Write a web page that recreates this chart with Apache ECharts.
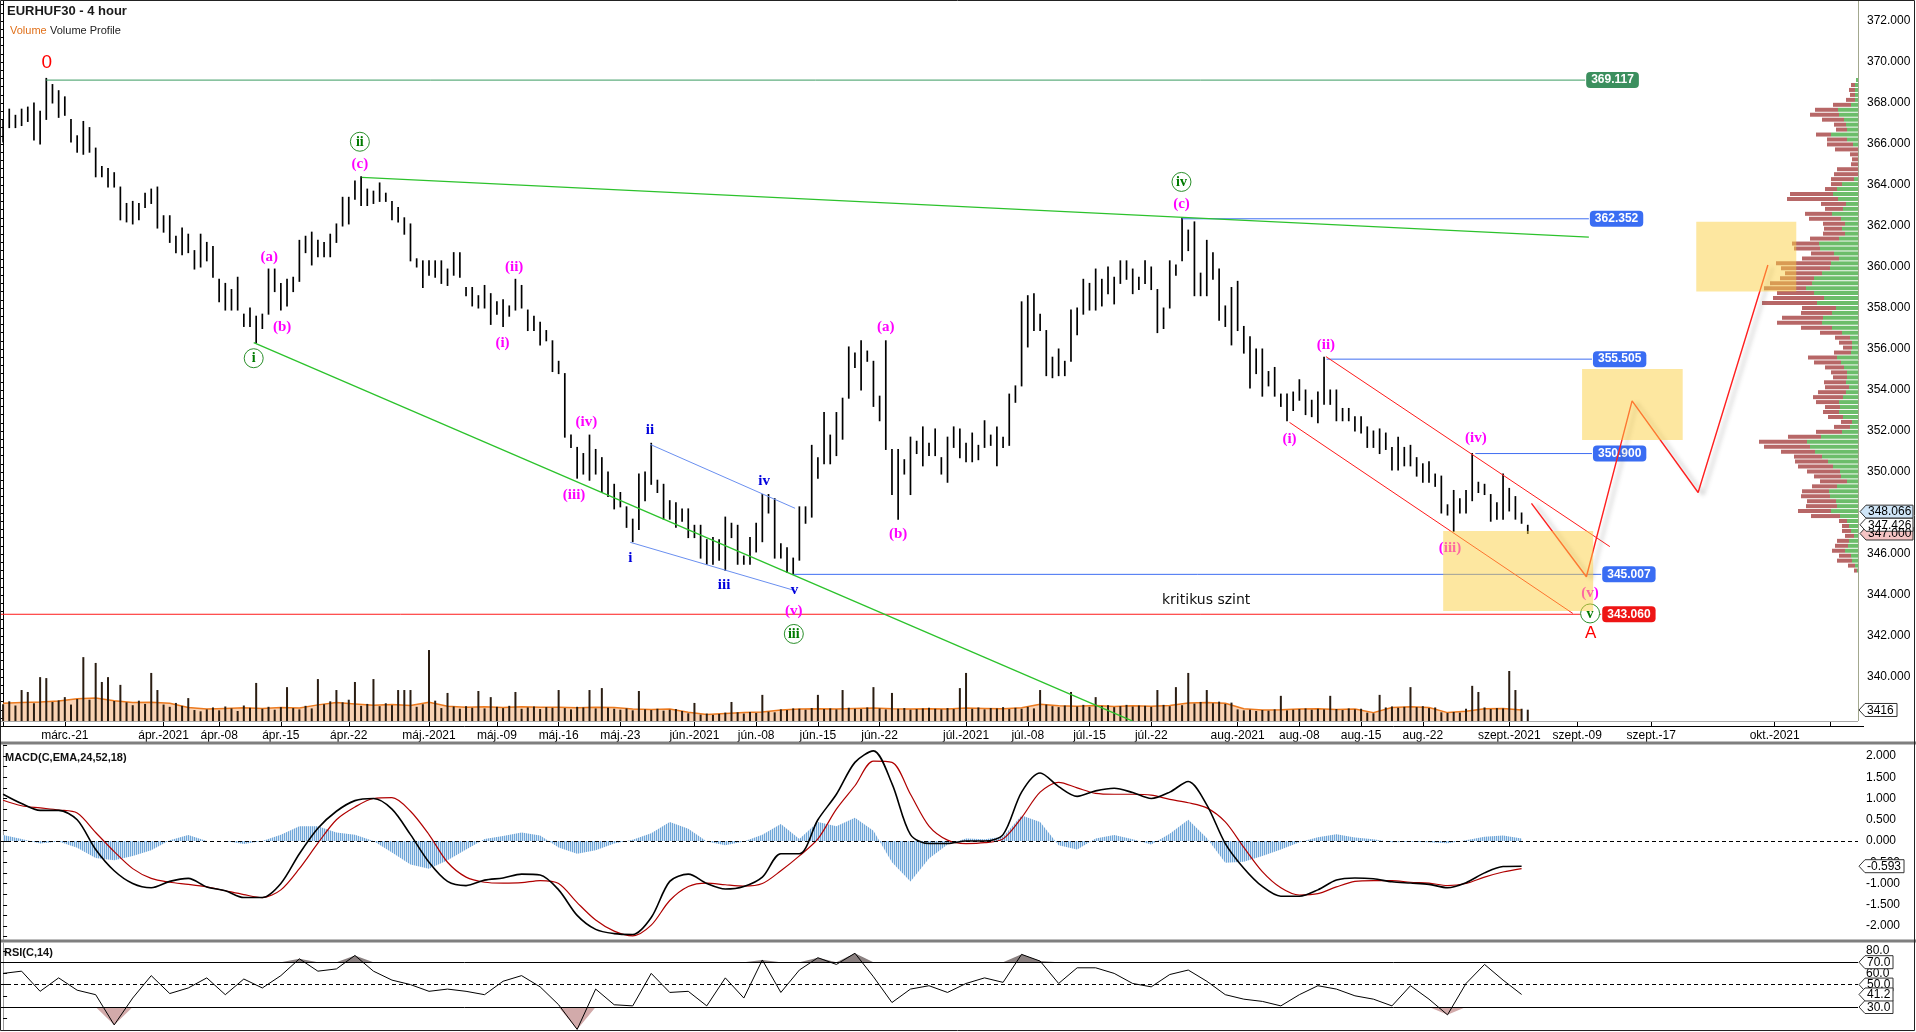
<!DOCTYPE html>
<html><head><meta charset="utf-8">
<script src="https://cdn.jsdelivr.net/npm/echarts@6/dist/echarts.min.js"></script>
<style>html,body{margin:0;padding:0;background:#fff;overflow:hidden}#c{width:1916px;height:1032px}</style>
</head><body><div id="c"></div>
<script>
// ---------------- DATA ----------------
const NSLOT = 301;           // time slots on the x axis (incl. future)
const IND_STEP = 3;          // indicator sample spacing in slots
const highs = [367.2,367.7,367.4,367.7,367.8,368.0,367.6,369.2,368.9,368.6,
368.3,367.2,366.4,367.1,366.8,365.8,364.9,364.8,364.6,363.9,
363.1,363.2,363.1,363.6,363.8,363.9,362.5,362.5,361.5,361.9,
361.6,360.8,361.6,361.2,361.0,359.4,359.2,358.9,359.5,357.7,
358.0,357.6,357.7,359.9,359.9,359.2,359.4,359.5,361.3,361.5,
361.7,361.3,361.2,361.6,362.1,363.4,363.4,364.2,364.4,363.8,
363.7,364.1,363.6,363.2,362.9,362.4,362.1,360.4,360.3,360.3,
360.3,360.3,359.9,360.7,360.7,359.0,359.0,358.6,359.1,358.7,
358.3,358.4,358.1,359.4,359.1,357.9,357.6,357.3,356.9,356.4,
355.4,354.8,351.8,351.2,350.9,351.8,351.1,350.7,350.0,349.4,
349.0,348.3,347.7,349.9,350.0,351.4,349.6,349.4,348.6,348.5,
348.2,348.2,347.4,347.4,346.7,346.8,346.7,347.8,347.5,347.4,
345.9,346.8,347.5,348.9,348.9,348.7,346.5,346.3,345.8,348.3,
348.3,351.3,350.7,352.9,351.8,352.9,353.6,356.1,355.8,356.4,
355.9,355.4,353.7,356.4,351.1,351.1,350.6,351.7,351.5,352.2,
351.4,352.1,350.7,351.7,352.2,352.1,351.4,351.9,351.3,352.5,
351.8,352.2,351.7,353.8,354.2,358.3,358.6,358.7,357.7,356.9,
355.6,356.0,355.4,357.9,358.0,359.4,359.2,359.9,359.4,360.0,
359.5,360.3,360.3,359.9,359.5,360.3,360.0,358.9,358.0,360.3,
360.1,362.4,361.8,362.2,359.7,361.3,360.7,359.9,358.1,359.0,
359.3,357.1,356.6,356.0,356.0,354.9,355.1,353.8,353.8,353.9,
354.5,354.0,353.5,353.9,355.6,354.0,354.0,353.1,353.1,352.7,
352.7,352.2,352.0,352.1,351.9,351.2,351.7,351.2,351.3,350.7,
350.4,350.5,349.9,349.8,348.4,349.1,348.7,349.1,350.9,349.5,
349.4,348.9,348.5,349.9,349.2,348.8,348.0,347.4];
const lows = [366.1,366.8,366.8,366.9,367.1,366.2,366.0,367.2,368.0,367.3,
367.4,366.1,365.6,365.5,365.6,364.4,364.4,363.9,363.9,362.3,
362.2,362.1,362.3,362.9,363.1,361.9,361.7,361.2,360.7,360.6,
360.7,359.9,360.0,360.3,359.5,358.3,357.9,357.9,357.9,357.1,
357.1,356.3,357.0,357.7,358.8,357.9,358.1,358.8,359.3,360.7,
360.1,360.5,360.5,360.5,361.2,362.0,362.1,363.3,363.0,363.0,
363.1,363.2,363.2,362.3,362.2,361.6,360.3,360.0,359.0,359.6,
359.5,359.2,359.1,359.6,359.5,358.6,358.1,358.0,358.0,357.2,
357.7,357.1,357.6,357.9,358.0,356.9,356.9,356.2,356.4,354.9,
354.8,351.7,351.2,349.7,349.9,349.6,349.9,349.0,348.8,348.2,
348.3,347.3,346.6,347.2,348.6,349.4,349.0,347.7,347.7,347.3,
347.6,346.8,346.8,345.8,345.5,345.5,345.7,345.2,346.8,345.5,
345.5,345.5,346.1,346.6,348.0,345.8,345.8,345.1,345.0,345.7,
347.5,347.8,349.7,350.4,350.4,350.8,351.6,353.6,355.1,354.0,
355.4,353.2,352.5,351.1,348.9,347.7,349.9,348.9,350.9,350.3,
350.8,350.8,349.9,349.5,351.2,350.7,350.5,350.5,350.6,351.2,
351.3,350.3,351.2,351.3,353.4,354.2,356.1,356.9,356.9,354.7,
354.6,354.7,354.7,355.4,356.7,357.7,357.9,357.9,358.1,358.7,
358.2,359.2,359.4,358.7,358.9,359.2,358.9,356.8,357.0,358.0,
359.6,360.3,360.8,358.6,358.6,358.6,359.4,357.4,357.1,356.2,
356.9,355.8,354.1,354.8,353.7,354.2,353.7,353.2,352.5,353.0,
353.5,352.8,352.7,352.4,353.3,353.3,352.5,352.5,352.5,352.0,
351.9,351.2,351.2,350.9,351.1,350.1,350.1,350.3,350.3,349.8,
349.5,349.5,349.3,348.0,347.9,347.1,348.0,348.0,348.6,349.0,
348.9,347.6,347.7,347.7,348.1,347.7,347.5,347.0];
const volume = [5200,6100,4800,9600,9000,5500,13600,13300,5900,6400,
7400,5100,6800,19800,6600,18000,12100,13600,
6200,11200,5800,4900,6300,5300,14900,9600,5100,4400,5600,4700,
7100,3400,3000,
3600,4200,3300,4500,3900,3100,4800,4100,11800,3800,4400,3500,4300,10500,4000,3600,4700,3900,
13000,5200,6100,9600,5800,6600,
12100,4700,5300,13000,4600,5500,4900,9600,9600,9600,4400,5200,
22000,6300,
4000,8700,4500,3800,4600,4100,9300,3900,7400,4400,4000,4700,9000,3800,4200,4500,3700,4300,4100,9600,4000,3600,4400,4200,9600,3900,10200,4100,3800,
3500,3900,3300,9300,3600,3400,3800,3200,3500,3700,3100,
2400,5600,2000,2300,1900,2200,
2600,5900,2700,2300,2800,2500,8100,2900,2700,
3600,3400,3900,3800,3500,4000,8100,3700,3900,3600,9600,4100,3800,3700,4200,10500,3900,3600,8700,3800,4000,3500,3700,3900,4100,3800,3600,4000,3700,10200,
14900,3800,4200,3600,4000,3900,4300,3700,4100,3800,4400,3900,
9600,5100,4600,4300,4800,9000,4500,5000,4400,7400,4700,4900,4300,4600,5000,4500,4800,4700,4400,9600,5000,4600,10500,4900,
14900,5400,5900,9600,5500,6000,5300,5700,
3600,3300,3500,3100,3400,3200,3600,7800,3300,3500,
3700,3900,3500,3800,3600,7800,3700,3400,3900,3600,3800,
2600,2400,8100,
4200,4500,4100,4400,10500,4300,4600,4000,4200,
2700,2500,2800,2600,
3800,10900,9000,4200,3700,4000,3900,15500,9600,3800,3500];
const volMA = [5500,5700,5900,6200,6900,7100,6300,5700,5800,5500,
4200,3700,3900,4100,3900,4200,4000,5000,5700,5300,
4900,5100,4800,5800,4600,4300,4400,4200,4400,4300,
4300,4100,4300,4200,3700,3600,3700,2700,2000,2300,
2600,2800,3400,3700,3800,3700,3900,4000,3800,3700,
3800,3700,4000,3900,3800,4100,5200,4700,4600,4800,
4500,4700,4600,4800,5600,5700,5500,3800,3400,3500,
3700,3800,3600,3700,2600,4200,4400,4200,2600,3000,
3800,3900,3416];
const macdLine = [1.10,0.88,0.72,0.72,0.50,-0.20,-0.70,-1.00,-1.10,-0.95,
-0.88,-1.08,-1.17,-1.33,-1.33,-1.00,-0.30,0.30,0.70,0.95,
1.00,0.75,0.15,-0.50,-0.95,-1.05,-0.92,-0.87,-0.78,-0.80,
-1.15,-1.75,-2.08,-2.18,-2.20,-1.80,-0.95,-0.78,-1.00,-1.13,
-1.07,-0.85,-0.30,-0.30,0.50,1.10,1.85,2.12,1.35,0.15,
-0.06,-0.06,0.00,0.00,0.15,1.15,1.60,1.28,1.05,1.18,
1.24,1.14,1.00,1.15,1.40,0.85,-0.06,-0.64,-1.07,-1.30,
-1.30,-1.15,-0.92,-0.87,-0.89,-0.96,-0.99,-1.02,-1.10,-0.98,
-0.75,-0.60,-0.593];
const signalLine = [0.96,0.83,0.78,0.73,0.66,0.20,-0.25,-0.65,-0.88,-0.97,
-1.02,-1.08,-1.17,-1.26,-1.33,-1.15,-0.65,-0.05,0.50,0.80,
1.00,1.02,0.70,0.15,-0.50,-0.85,-0.97,-0.99,-0.98,-0.93,
-1.00,-1.45,-1.86,-2.12,-2.23,-1.98,-1.40,-1.07,-0.99,-1.03,
-1.06,-1.00,-0.70,-0.35,0.05,0.75,1.30,1.88,1.85,1.10,
0.35,0.02,-0.06,-0.04,0.05,0.55,1.15,1.38,1.25,1.12,
1.10,1.10,1.08,0.98,0.90,0.78,0.45,-0.15,-0.72,-1.10,
-1.27,-1.24,-1.08,-0.95,-0.93,-0.93,-0.97,-0.99,-1.05,-1.00,
-0.85,-0.73,-0.65];
const rsiLine = [60,62,44,56,45,41,14,38,58,42,
47,56,41,55,47,58,73,62,64,76,
62,54,50,44,46,44,41,53,58,48,
32,10,46,32,31,60,43,44,31,56,
38,72,43,63,74,68,78,57,34,46,
49,43,51,56,52,77,71,51,65,65,
60,51,48,59,63,53,41,37,35,31,
41,49,46,40,37,31,49,37,23,51,
68,54,41.2];
// volume profile (top bin 369.12, bins going down)
const vpTop = 369.12, vpStep = 0.2417;
const vpGreen = [2,3,3,3,3,7,20,19,14,12,
11,27,11,5,0,0,0,0,0,0,
4,16,21,25,20,12,15,26,17,13,
16,13,19,39,38,24,19,27,28,36,
44,46,52,44,34,41,22,26,35,36,
26,16,8,6,6,7,21,17,14,11,
11,12,9,12,15,19,18,19,15,6,
8,16,37,51,48,43,36,30,25,18,
17,11,21,29,28,22,21,27,18,11,
9,7,4,9,10,13,7,6,3,1];
const vpRed = [0,4,6,5,9,18,23,29,22,12,
11,15,20,26,23,8,6,7,21,24,
23,11,12,43,51,25,18,27,32,22,
18,22,29,27,26,23,37,55,49,37,
34,42,42,37,51,55,34,31,41,45,
31,22,15,13,9,17,29,27,19,16,
14,22,24,28,30,23,15,16,15,11,
16,26,33,48,46,34,28,33,35,33,
27,27,25,27,29,29,31,33,29,8,
7,9,9,12,13,13,12,15,7,3];
// x-axis date tick labels [slot, label]
const dateTicks = [[10,'márc.-21'],[26,'ápr.-2021'],[35,'ápr.-08'],[45,'ápr.-15'],[56,'ápr.-22'],[69,'máj.-2021'],[80,'máj.-09'],[90,'máj.-16'],[100,'máj.-23'],[112,'jún.-2021'],[122,'jún.-08'],[132,'jún.-15'],[142,'jún.-22'],[156,'júl.-2021'],[166,'júl.-08'],[176,'júl.-15'],[186,'júl.-22'],[200,'aug.-2021'],[210,'aug.-08'],[220,'aug.-15'],[230,'aug.-22'],[244,'szept.-2021'],[255,'szept.-09'],[267,'szept.-17'],[287,'okt.-2021']];
const extraTickSlots = [296];
// horizontal levels
const levels = [369.117, 362.352, 355.505, 350.900, 345.007, 343.060];
const levelStart = [6.95, 191.0, 214.4, 238.5, 128.0, -0.5];
const levelEnd = [256.3, 256.9, 257.4, 257.4, 258.9, 258.9];
const levelKind = ['green','blue','blue','blue','blue','red'];
// trend / channel lines
const trendLines = [
  [[58.1,364.37],[256.9,361.46]],
  [[40.6,356.31],[183.0,337.85]],
  [[104.8,351.35],[128.3,348.23]],
  [[101.6,346.57],[128.0,344.24]],
  [[214.3,355.63],[260.3,346.36]],
  [[208.4,352.42],[254.3,343.10]]
];
const trendKind = ['lime','lime','sky','sky','red','red'];
const projection = [[247.6,348.47],[256.5,344.89],[263.9,353.47],[274.6,349.0],[285.9,360.1]];
const zones = [[233.3,257.6,347.12,343.22],[255.8,272.1,355.02,351.56],[274.3,290.5,362.21,358.80]];
const waveLabels = [
 [7.07,369.94,'0','red0'],
 [57.8,366.11,'ii','cgreen'],[57.8,365.02,'(c)','mag'],
 [43.1,360.5,'(a)','mag'],[45.2,357.09,'(b)','mag'],[40.6,355.55,'i','cgreen'],
 [82.8,360.01,'(ii)','mag'],[80.9,356.31,'(i)','mag'],[94.5,352.45,'(iv)','mag'],[92.5,348.88,'(iii)','mag'],
 [104.8,352.05,'ii','blue'],[101.6,345.79,'i','blue'],[116.8,344.49,'iii','blue'],[123.3,349.56,'iv','blue'],[128.2,344.24,'v','blue'],
 [128.1,343.22,'(v)','mag'],[128.1,342.1,'iii','cgreen'],
 [143.0,357.09,'(a)','mag'],[145.0,346.98,'(b)','mag'],
 [190.9,364.15,'iv','cgreen'],[190.9,363.07,'(c)','mag'],
 [214.3,356.2,'(ii)','mag'],[208.4,351.6,'(i)','mag'],[238.6,351.64,'(iv)','mag'],[234.4,346.28,'(iii)','mag'],
 [257.1,344.08,'(v)','mag'],[257.1,343.1,'v','cgreen'],[257.2,342.13,'A','redA'],
 [194.9,343.76,'kritikus szint','text']
];
const priceTags = [[347.000,'#f5c4c4'],[348.066,'#cfe5f7'],[347.426,'#ffffff']];
const rsiTags = [70, 50, 30];

// ---------------- LAYOUT / SCALES ----------------
const P_MIN = 372 - (726 - 21) / 20.5, P_MAX = 372 + 21 / 20.5;
const M_MIN = -(940 - 841) / 42.5, M_MAX = (841 - 745) / 42.5;
const R_MIN = 30 - (1030 - 1007) / 1.12, R_MAX = 80 + (951 - 943) / 1.12;
const V_MAX = 81 * 310;
const SANS = '"Liberation Sans", Arial, sans-serif';
const SERIF = '"Liberation Serif", "Times New Roman", serif';

const cats = new Array(NSLOT).fill('');
dateTicks.forEach(([s, l]) => { cats[s] = l; });
const tickSet = new Set(dateTicks.map(d => d[0]).concat(extraTickSlots));

const priceLabelVals = []; for (let v = 340; v <= 372; v += 2) priceLabelVals.push(v);
const priceTickVals = []; for (let k = 0; k <= 87; k++) priceTickVals.push(+(338 + 0.4 * k).toFixed(1));
const macdLabelVals = []; for (let k = -4; k <= 4; k++) macdLabelVals.push(k * 0.5);
const macdTickVals = []; for (let k = -9; k <= 9; k++) macdTickVals.push(k * 0.25);

const ind = arr => arr.map((v, k) => [k * IND_STEP, v]);
const hist = macdLine.map((v, k) => [k * IND_STEP, +(v - signalLine[k]).toFixed(3)]);

const pc = document.createElement('canvas'); pc.width = 2; pc.height = 2;
const g2 = pc.getContext('2d'); g2.fillStyle = '#6fa6d8'; g2.fillRect(0, 0, 1, 2); g2.fillStyle = '#d6e6f5'; g2.fillRect(1, 0, 1, 2);

const colors = { green: '#3a9a60', blue: '#3f6ef2', red: '#ff1a1a', lime: '#2cc22c', sky: '#6a8ff0' };
const boxBg = { green: '#3b8f5e', blue: '#3a6df3', red: '#ee1515' };
const LS = {
  mag: { color: '#ff00ff', font: 'bold 15px ' + SERIF },
  blue: { color: '#0000dd', font: 'bold 15px ' + SERIF },
  cgreen: { color: '#007a00', font: 'bold 14px ' + SERIF, circle: 9.5 },
  red0: { color: '#ff0000', font: '19px ' + SANS },
  redA: { color: '#ff0000', font: '17px ' + SANS },
  text: { color: '#111', font: '14px "DejaVu Sans", sans-serif' }
};

const hiddenX = (gi, extra) => Object.assign({ type: 'value', gridIndex: gi, min: -0.5, max: NSLOT - 0.5, show: false }, extra || {});

const series = [];
// price bars
series.push({
  type: 'custom', xAxisIndex: 1, yAxisIndex: 0, z: 3,
  data: highs.map((h, i) => [i, h, lows[i]]), encode: { x: 0, y: [1, 2] },
  renderItem: (p, api) => {
    const a = api.coord([api.value(0), api.value(1)]), b = api.coord([api.value(0), api.value(2)]);
    return { type: 'line', shape: { x1: a[0], y1: a[1] - 0.5, x2: b[0], y2: b[1] + 0.5 }, style: { stroke: '#000', lineWidth: 1.7 } };
  }
});
// volume MA area
series.push({
  type: 'line', xAxisIndex: 2, yAxisIndex: 1, z: 1, data: ind(volMA), symbol: 'none', showSymbol: false,
  lineStyle: { color: '#ec7a1f', width: 1.5 }, areaStyle: { color: '#f9d2b3', opacity: 1 }, silent: true
});
// volume bars
series.push({
  type: 'custom', xAxisIndex: 2, yAxisIndex: 1, z: 2,
  data: volume.map((v, i) => [i, v]), encode: { x: 0, y: 1 },
  renderItem: (p, api) => {
    const a = api.coord([api.value(0), 0]), b = api.coord([api.value(0), api.value(1)]);
    return { type: 'line', shape: { x1: a[0], y1: a[1], x2: b[0], y2: b[1] }, style: { stroke: '#2a1d12', lineWidth: 2 } };
  }
});
// volume profile
series.push({
  type: 'custom', xAxisIndex: 3, yAxisIndex: 2, z: 2,
  data: vpGreen.map((gv, k) => [gv, vpTop - vpStep * k, vpRed[k]]), encode: { x: 0, y: 1 },
  renderItem: (p, api) => {
    const gv = api.value(0), pr = api.value(1), rv = api.value(2);
    const o = api.coord([0, pr]), gp = api.coord([gv, pr]), rp = api.coord([gv + rv, pr]);
    const ch = [];
    if (gv > 0) ch.push({ type: 'rect', shape: { x: gp[0], y: o[1] - 2, width: o[0] - gp[0], height: 4 }, style: { fill: '#6cbd6a' } });
    if (rv > 0) ch.push({ type: 'rect', shape: { x: rp[0], y: o[1] - 2, width: gp[0] - rp[0], height: 4 }, style: { fill: '#b76767' } });
    return { type: 'group', children: ch };
  }
});
// horizontal levels with boxed end labels
levels.forEach((lv, i) => {
  const k = levelKind[i];
  series.push({
    type: 'line', xAxisIndex: 1, yAxisIndex: 0, z: 4, symbol: 'none', showSymbol: false, silent: true,
    data: [[levelStart[i], lv], [levelEnd[i], lv]],
    lineStyle: { color: colors[k], width: 1 },
    endLabel: { show: true, distance: 1, formatter: pp => pp.value[1].toFixed(3), color: '#fff', fontWeight: 'bold', fontSize: 12, fontFamily: 'Liberation Sans',
      backgroundColor: boxBg[k], padding: [2, 5, 2, 5], borderRadius: 4 }
  });
});
// trend & channel lines
trendLines.forEach((tl, i) => {
  series.push({ type: 'line', xAxisIndex: 1, yAxisIndex: 0, z: 4, symbol: 'none', showSymbol: false, silent: true,
    data: tl, lineStyle: { color: colors[trendKind[i]], width: trendKind[i] === 'lime' ? 1.3 : 1 } });
});
// projected path
series.push({ type: 'line', xAxisIndex: 1, yAxisIndex: 0, z: 5, symbol: 'none', showSymbol: false, silent: true, clip: false,
  data: projection, lineStyle: { color: '#ff2020', width: 1.4, shadowColor: 'rgba(90,90,90,0.45)', shadowBlur: 4, shadowOffsetX: 5, shadowOffsetY: 2 } });
// wave labels
series.push({
  type: 'custom', xAxisIndex: 1, yAxisIndex: 0, z: 6, clip: false,
  data: waveLabels.map(l => [l[0], l[1]]), encode: { x: 0, y: 1 },
  renderItem: (p, api) => {
    const L = waveLabels[p.dataIndex], st = LS[L[3]], pt = api.coord([L[0], L[1]]);
    const ch = [];
    if (st.circle) ch.push({ type: 'circle', shape: { cx: pt[0], cy: pt[1], r: st.circle }, style: { fill: '#fff', stroke: '#2a8f2a', lineWidth: 1 } });
    ch.push({ type: 'text', style: { x: pt[0], y: pt[1] + (st.circle ? 0.5 : 0), text: L[2], fill: st.color, font: st.font, align: 'center', verticalAlign: 'middle' } });
    return { type: 'group', children: ch };
  }
});
// yellow zones (semi-transparent, on top)
series.push({
  type: 'custom', xAxisIndex: 1, yAxisIndex: 0, z: 10, clip: false,
  data: zones, encode: { x: [0, 1], y: [2, 3] },
  renderItem: (p, api) => {
    const a = api.coord([api.value(0), api.value(2)]), b = api.coord([api.value(1), api.value(3)]);
    return { type: 'rect', shape: { x: a[0], y: a[1], width: b[0] - a[0], height: b[1] - a[1] }, style: { fill: 'rgba(252,208,66,0.5)' } };
  }
});
// MACD
series.push({ type: 'line', xAxisIndex: 4, yAxisIndex: 3, z: 1, data: hist, symbol: 'none', showSymbol: false, silent: true,
  lineStyle: { width: 0 }, areaStyle: { color: { image: pc, repeat: 'repeat' }, opacity: 1 },
  markLine: { silent: true, symbol: 'none', label: { show: false }, lineStyle: { color: '#000', type: [4, 3], width: 1 }, data: [{ yAxis: 0 }] } });
series.push({ type: 'line', xAxisIndex: 4, yAxisIndex: 3, z: 3, data: ind(signalLine), symbol: 'none', showSymbol: false, smooth: 0.3, silent: true,
  lineStyle: { color: '#b00000', width: 1.2 } });
series.push({ type: 'line', xAxisIndex: 4, yAxisIndex: 3, z: 4, data: ind(macdLine), symbol: 'none', showSymbol: false, smooth: 0.3, silent: true,
  lineStyle: { color: '#000', width: 1.6 } });
// RSI
series.push({ type: 'line', xAxisIndex: 5, yAxisIndex: 4, z: 1, data: rsiLine.map((v, k) => [k * IND_STEP, Math.max(v, 70)]), symbol: 'none', showSymbol: false, silent: true,
  lineStyle: { width: 0 }, areaStyle: { origin: 70, color: '#8a8080', opacity: 1 } });
series.push({ type: 'line', xAxisIndex: 5, yAxisIndex: 4, z: 1, data: rsiLine.map((v, k) => [k * IND_STEP, Math.min(v, 30)]), symbol: 'none', showSymbol: false, silent: true,
  lineStyle: { width: 0 }, areaStyle: { origin: 30, color: '#d2aaaa', opacity: 1 } });
series.push({ type: 'line', xAxisIndex: 5, yAxisIndex: 4, z: 3, data: ind(rsiLine), symbol: 'none', showSymbol: false, silent: true,
  lineStyle: { color: '#000', width: 1 },
  markLine: { silent: true, symbol: 'none', label: { show: false }, lineStyle: { color: '#000', width: 1, type: 'solid' },
    data: [{ yAxis: 70 }, { yAxis: 50, lineStyle: { type: [4, 3] } }, { yAxis: 30 }] } });

const option = {
  animation: false,
  backgroundColor: '#fff',
  grid: [
    { left: 0, top: 0, width: 1858, height: 726 },
    { left: 0, top: 640, width: 1858, height: 81 },
    { left: 1658, top: 0, width: 200, height: 726 },
    { left: 0, top: 745, width: 1858, height: 195 },
    { left: 0, top: 943, width: 1858, height: 87 }
  ],
  xAxis: [
    { type: 'category', gridIndex: 0, data: cats, boundaryGap: true,
      axisLine: { show: true, lineStyle: { color: '#000', width: 1 } },
      axisTick: { show: true, inside: true, length: 5, alignWithLabel: true, interval: (i) => tickSet.has(i), lineStyle: { color: '#000' } },
      axisLabel: { show: true, interval: (i, v) => v !== '', margin: 4, fontSize: 12, color: '#000', fontFamily: 'Liberation Sans' },
      splitLine: { show: false } },
    hiddenX(0),
    hiddenX(1),
    { type: 'value', gridIndex: 2, min: 0, max: 200, inverse: true, show: false },
    hiddenX(3),
    hiddenX(4)
  ],
  yAxis: [
    { type: 'value', gridIndex: 0, position: 'right', offset: 6, min: P_MIN, max: P_MAX,
      axisLine: { show: true, lineStyle: { color: '#000' } },
      axisTick: { show: true, inside: true, length: 4, customValues: priceTickVals, lineStyle: { color: '#000' } },
      axisLabel: { show: true, customValues: priceLabelVals, formatter: v => v.toFixed(3), margin: 3, fontSize: 12, color: '#000', fontFamily: 'Liberation Sans' },
      splitLine: { show: false } },
    { type: 'value', gridIndex: 1, min: 0, max: V_MAX, show: false },
    { type: 'value', gridIndex: 2, min: P_MIN, max: P_MAX, show: false },
    { type: 'value', gridIndex: 3, position: 'right', min: M_MIN, max: M_MAX,
      axisLine: { show: true, lineStyle: { color: '#9a9a9a' } },
      axisTick: { show: true, length: 4, customValues: macdTickVals, lineStyle: { color: '#000' } },
      axisLabel: { show: true, customValues: macdLabelVals, formatter: v => v.toFixed(3), margin: 8, fontSize: 12, color: '#000', fontFamily: 'Liberation Sans' },
      splitLine: { show: false } },
    { type: 'value', gridIndex: 4, position: 'right', min: R_MIN, max: R_MAX,
      axisLine: { show: true, lineStyle: { color: '#9a9a9a' } },
      axisTick: { show: true, length: 4, customValues: [20, 30, 40, 50, 60, 70, 80], lineStyle: { color: '#000' } },
      axisLabel: { show: true, customValues: [80, 60], formatter: v => v.toFixed(1), margin: 8, fontSize: 12, color: '#000', fontFamily: 'Liberation Sans' },
      splitLine: { show: false } }
  ],
  series
};

const chart = echarts.init(document.getElementById('c'));
chart.setOption(option);

// ---------- frame, titles and value tags ----------
function tag(y, text, fill, x0, w) {
  return [
    { type: 'polygon', z: 100, shape: { points: [[x0, y], [x0 + 6, y - 6.5], [x0 + w, y - 6.5], [x0 + w, y + 6.5], [x0 + 6, y + 6.5]] }, style: { fill, stroke: '#333', lineWidth: 1 } },
    { type: 'text', z: 101, style: { x: x0 + 8, y: y + 0.5, text, fill: '#000', font: '12px ' + SANS, verticalAlign: 'middle' } }
  ];
}
const yP = v => chart.convertToPixel({ yAxisIndex: 0 }, v);
const yV = v => chart.convertToPixel({ yAxisIndex: 1 }, v);
const yM = v => chart.convertToPixel({ yAxisIndex: 3 }, v);
const yR = v => chart.convertToPixel({ yAxisIndex: 4 }, v);
let els = [
  { type: 'line', z: 50, shape: { x1: 1858.5, y1: 0, x2: 1858.5, y2: 721 }, style: { stroke: '#a3a88f', lineWidth: 1 } },
  { type: 'line', z: 50, shape: { x1: 0, y1: 721.5, x2: 1858, y2: 721.5 }, style: { stroke: '#a8a8a8', lineWidth: 1 } },
  { type: 'line', z: 50, shape: { x1: 1858, y1: 726.5, x2: 1864, y2: 726.5 }, style: { stroke: '#000', lineWidth: 1 } },
  { type: 'rect', z: 50, shape: { x: 0, y: 741.5, width: 1916, height: 3 }, style: { fill: '#7f7f7f' } },
  { type: 'rect', z: 50, shape: { x: 0, y: 939.5, width: 1916, height: 3 }, style: { fill: '#7f7f7f' } },
  { type: 'rect', z: 50, shape: { x: 0.5, y: 0.5, width: 1914, height: 1030 }, style: { fill: 'none', stroke: '#222', lineWidth: 1 } },
  { type: 'text', z: 60, style: { x: 7, y: 5, text: 'EURHUF30 - 4 hour', font: 'bold 13px ' + SANS, fill: '#1a1a1a' } },
  { type: 'text', z: 60, style: { x: 10, y: 25, text: 'Volume', font: '11px ' + SANS, fill: '#e0701a' } },
  { type: 'text', z: 60, style: { x: 50, y: 25, text: 'Volume Profile', font: '11px ' + SANS, fill: '#222' } },
  { type: 'text', z: 60, style: { x: 5, y: 752, text: 'MACD(C,EMA,24,52,18)', font: 'bold 11px ' + SANS, fill: '#111' } },
  { type: 'text', z: 60, style: { x: 4, y: 947, text: 'RSI(C,14)', font: 'bold 11px ' + SANS, fill: '#111' } }
];
priceTags.forEach(([v, c]) => { els = els.concat(tag(yP(v), v.toFixed(3), c, 1860, 53)); });
els = els.concat(tag(yV(volMA[volMA.length - 1]), String(volMA[volMA.length - 1]), '#fff', 1859, 38));
els = els.concat(tag(yM(macdLine[macdLine.length - 1]), macdLine[macdLine.length - 1].toFixed(3), '#fff', 1859, 45));
rsiTags.forEach(v => { els = els.concat(tag(yR(v), v.toFixed(1), '#fff', 1859, 34)); });
els = els.concat(tag(yR(rsiLine[rsiLine.length - 1]), rsiLine[rsiLine.length - 1].toFixed(1), '#fff', 1859, 34));
chart.setOption({ graphic: { elements: els } });
</script></body></html>
